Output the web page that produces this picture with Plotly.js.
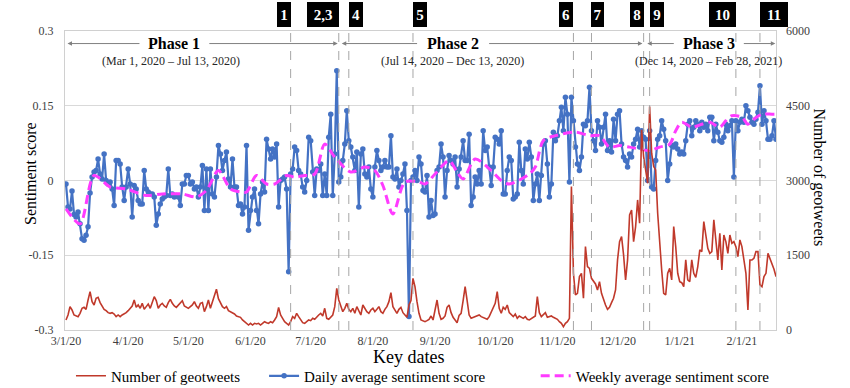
<!DOCTYPE html>
<html>
<head>
<meta charset="utf-8">
<script src="https://cdn.plot.ly/plotly-3.0.1.min.js"></script>
<style>
  html, body { margin: 0; padding: 0; background: #fff; }
  #chart { width: 850px; height: 388px; }
</style>
</head>
<body>
<div id="chart"></div>
<script>
// ---------------- DATA ----------------
const seriesStart = '2020-03-01';

// Daily average sentiment score (one value per day from 3/1/20)
const dailySentiment = [
  -0.007,-0.053,-0.057,-0.021,-0.068,-0.073,-0.063,-0.087,-0.117,-0.12,
  -0.11,-0.093,-0.025,0.007,0.017,0.02,0.043,0.013,0.003,0.053,
  0,-0.007,-0.003,-0.017,-0.05,0.04,0.04,0.033,-0.013,-0.04,
  -0.013,0.023,-0.007,-0.073,-0.01,-0.017,-0.04,-0.047,-0.047,0.02,
  -0.017,-0.023,-0.027,-0.027,-0.033,-0.09,-0.067,-0.047,-0.037,-0.033,
  -0.03,0.023,-0.03,-0.027,-0.033,-0.03,-0.033,-0.05,-0.007,-0.007,
  0.01,0.01,-0.007,-0.003,-0.017,-0.013,-0.033,-0.013,0.03,-0.06,
  0.023,-0.06,0.023,-0.027,-0.033,0.007,0.07,0.053,0.02,0.04,
  0.057,0.003,-0.013,0.043,-0.013,-0.013,-0.05,-0.047,
  -0.067,-0.053,0.07,-0.1,-0.06,-0.033,-0.017,-0.06,-0.087,-0.027,
  -0.003,-0.023,0.083,0.063,0.043,0.063,0.047,0.073,-0.053,0,
  0.003,0.007,-0.017,-0.183,0.013,0.023,0.067,0.06,0.02,0.013,
  -0.013,-0.023,0,0.087,0.08,0.017,-0.03,0.023,0.02,0.033,
  -0.03,0.013,-0.03,0.087,0.133,-0.03,0.053,0.22,-0.003,0.007,
  0.04,0.073,0.14,0.08,0.067,0.047,0.02,0.057,-0.053,0.053,
  0.063,0.013,0.007,0.027,-0.017,-0.033,0.027,0.06,0.04,0.02,
  0.027,0.04,0.027,0.027,0.09,0.007,0.003,0.023,-0.013,0,
  0.013,0.033,-0.06,-0.273,0,0.007,0.02,0,0.047,
  0.033,-0.02,-0.023,0.01,-0.073,-0.04,-0.07,-0.067,0.02,0.027,
  0.073,0.047,-0.033,0.02,0.05,0.04,0.033,0.047,-0.013,0.023,
  0.047,0.08,0.04,0.04,0.093,-0.05,-0.033,0.007,-0.007,0.02,
  -0.007,0.1,0.06,0.067,0.027,-0.01,0.027,0.087,0.083,0.073,
  0.1,-0.027,-0.027,0.02,0.047,0.04,-0.037,-0.033,-0.027,0.077,
  0.02,-0.007,0.063,0.043,0.077,0.047,-0.04,-0.007,0.013,-0.04,
  0.01,0.073,0.08,0.033,-0.033,-0.007,0.097,0.08,0.09,0.12,
  0.147,0.1,0.167,0.133,-0.003,0.167,0.12,0.067,0.033,0.02,
  0.047,0.113,0.11,0.12,0.187,0.1,0.08,0.06,0.12,0.107,
  0.073,0.107,0.133,0.06,0.08,0.057,0.123,0.08,0.133,0.14,
  0.073,0.047,0.04,0.027,0.053,0.047,0.073,0.083,0.103,0.067,
  0.1,0.087,0.083,0,0.1,-0.013,-0.017,0.04,0.083,0.09,
  0.12,0.103,0.08,0,0.033,0.07,0.067,0.073,0.063,0.053,
  0.057,0.053,0.08,0.113,0.12,0.09,0.107,0.12,0.113,0.1,
  0.117,0.107,0.113,0.1,0.127,0.127,0.08,0.113,0.097,0.08,
  0.077,0.087,0.113,0.1,0.11,0.12,0.007,0.12,0.1,0.117,
  0.123,0.117,0.15,0.14,0.127,0.117,0.113,0.123,0.137,0.19,
  0.113,0.14,0.12,0.083,0.083,0.09,0.12,0.083
];

// Number of geotweets per day (from 3/1/20)
const geotweetCount = [
  201,301,469,402,301,281,268,335,435,455,
  415,602,770,569,502,636,656,549,469,415,
  388,348,335,348,321,268,301,268,301,321,
  348,388,435,482,602,455,502,435,535,415,
  469,522,435,549,669,589,435,502,535,482,
  455,549,616,535,482,455,502,535,589,482,
  455,435,469,502,569,482,435,535,549,368,
  469,602,435,549,669,817,629,549,469,435,
  469,388,368,348,321,281,268,254,
  201,167,134,100,134,100,134,120,134,100,
  134,167,147,134,167,147,201,268,455,301,
  234,167,134,100,167,268,234,335,268,201,
  147,134,167,201,187,234,214,268,301,335,
  281,435,234,214,268,301,469,837,602,469,
  368,435,535,415,368,435,335,469,368,301,
  502,435,368,335,402,435,368,415,469,368,
  335,415,469,569,750,469,388,335,415,455,
  348,301,254,502,589,1037,870,569,335,
  201,187,167,187,214,281,201,402,602,335,
  214,234,281,455,502,348,254,201,147,294,
  335,589,870,589,301,234,254,268,281,301,
  268,254,234,214,268,368,435,535,770,435,
  335,455,415,502,348,301,268,321,234,281,
  254,234,268,214,201,234,254,281,669,348,
  268,301,348,254,268,281,254,234,214,167,
  134,67,134,167,234,2878,1138,703,736,1071,
  1138,636,1673,1272,1238,1037,970,924,803,970,
  736,602,502,415,455,549,636,803,1406,1774,
  1874,1506,1004,1406,2309,2409,1774,2075,2610,2142,
  4016,3480,3213,2945,4484,3547,3280,3213,2343,1673,
  1205,736,703,1138,1238,1004,2075,1673,1138,970,
  950,870,1406,1004,970,1406,1138,1057,1272,1606,
  1573,2175,1941,1640,1539,1573,2209,1774,1406,1941,
  1205,1907,1774,1539,1907,1740,1774,1673,1472,1807,
  1673,1406,1138,402,1406,1406,1439,1573,1573,904,
  870,1071,1138,1539,1439,1339,1218,1071
];

// Weekly average sentiment score
const weeklyDates = [
  '2020-03-01','2020-03-08','2020-03-15','2020-03-23','2020-03-31','2020-04-10','2020-04-18',
  '2020-04-28','2020-05-05','2020-05-10','2020-05-16','2020-05-22','2020-05-27','2020-05-30',
  '2020-06-04','2020-06-09','2020-06-13','2020-06-19','2020-06-23','2020-06-28','2020-07-03',
  '2020-07-08','2020-07-13','2020-07-21','2020-07-28','2020-08-02','2020-08-06','2020-08-11',
  '2020-08-17','2020-08-24','2020-08-27','2020-09-01','2020-09-08','2020-09-12','2020-09-15',
  '2020-09-21','2020-09-29','2020-10-04','2020-10-08','2020-10-18','2020-10-21','2020-10-25',
  '2020-10-31','2020-11-10','2020-11-17','2020-11-22','2020-11-27','2020-12-02','2020-12-07',
  '2020-12-12','2020-12-17','2020-12-22','2020-12-27','2020-12-30','2021-01-02','2021-01-07',
  '2021-01-12','2021-01-16','2021-01-21','2021-01-24','2021-01-27','2021-02-01','2021-02-04',
  '2021-02-07','2021-02-11','2021-02-16','2021-02-19'
];
const weeklySentiment = [
  -0.057,-0.087,0.01,-0.013,-0.017,-0.03,-0.027,
  -0.027,-0.033,-0.02,0.02,-0.017,-0.023,-0.023,
  0.01,-0.007,-0.007,0.01,0.007,0.01,0.013,
  0.073,0.047,0.017,0.027,0.02,-0.01,-0.067,
  -0.003,-0.003,-0.007,0.013,0.04,0.017,0.003,
  0.043,0.02,0.0,-0.007,0.013,0.027,0.08,
  0.09,0.097,0.09,0.09,0.067,0.07,0.067,
  0.063,0.06,0.067,0.073,0.1,0.117,0.107,
  0.113,0.117,0.107,0.12,0.13,0.127,0.113,
  0.123,0.133,0.133,0.133
];

// Key dates
const eventDates  = ['2020-06-21','2020-07-15','2020-07-20','2020-08-21','2020-11-09','2020-11-18','2020-12-14','2020-12-17','2021-01-29','2021-02-10'];
const eventLabels = ['1','2,3','4','5','6','7','8','9','10','11'];

// Phases
const phaseNames   = ['Phase 1','Phase 2','Phase 3'];
const phaseRanges  = ['(Mar 1, 2020 \u2013 Jul 13, 2020)','(Jul 14, 2020 \u2013 Dec 13, 2020)','(Dec 14, 2020 \u2013 Feb 28, 2021)'];

// Axis ticks
const monthTickDates  = ['2020-03-01','2020-04-01','2020-05-01','2020-06-01','2020-07-01','2020-08-01','2020-09-01','2020-10-01','2020-11-01','2020-12-01','2021-01-01','2021-02-01'];
const monthTickLabels = ['3/1/20','4/1/20','5/1/20','6/1/20','7/1/20','8/1/20','9/1/20','10/1/20','11/1/20','12/1/20','1/1/21','2/1/21'];
const sentimentTicks  = [-0.3,-0.15,0,0.15,0.3];
const sentimentLabels = ['-0.3','-0.15','0','0.15','0.3'];
const countTicks      = [0,1500,3000,4500,6000];
const countLabels     = ['0','1500','3000','4500','6000'];

// ---------------- PRESENTATION ----------------
function dailyDates(n) {
  const t0 = Date.parse(seriesStart + 'T00:00:00Z');
  const out = [];
  for (let i = 0; i < n; i++) out.push(new Date(t0 + i * 86400000).toISOString().slice(0, 10));
  return out;
}

const SERIF = 'Liberation Serif';
const RED = '#C0392B', BLUE = '#4472C4', PINK = '#FF3BFF';

// box geometry for key-date labels: [width px, side]  (side -1 = box left of line, +1 = right)
const boxStyle = [[14,-1],[32,-1],[14,1],[14,1],[14,-1],[13,1],[14,-1],[14,1],[27,-1],[28,1]];
const BOX_Y0 = 1.0134, BOX_H = 25;

// phase arrow segments: [tail, tip] dates (visual guides)
const arrowSegs = [
  ['2020-04-07 09:00','2020-03-01 18:00'],
  ['2020-05-10 17:00','2020-07-14 12:00'],
  ['2020-08-23 19:00','2020-07-16 12:00'],
  ['2020-09-27 05:00','2020-12-13 10:00'],
  ['2020-12-29 19:00','2020-12-15 19:00'],
  ['2021-02-01 05:00','2021-02-17 16:00']
];
const phaseLabelX = ['2020-04-24','2020-09-10','2021-01-15 12:00'];
const phaseSubX   = ['2020-04-22 12:00','2020-09-09 12:00','2021-01-15 12:00'];

const traces = [
  {
    x: dailyDates(geotweetCount.length), y: geotweetCount, yaxis: 'y2',
    type: 'scatter', mode: 'lines', name: 'Number of geotweets',
    line: { color: RED, width: 1.6 }, legend: 'legend'
  },
  {
    x: dailyDates(dailySentiment.length), y: dailySentiment,
    type: 'scatter', mode: 'lines+markers', name: 'Daily average sentiment score',
    line: { color: BLUE, width: 2.2 }, marker: { color: BLUE, size: 5.5 }, legend: 'legend2'
  },
  {
    x: weeklyDates, y: weeklySentiment,
    type: 'scatter', mode: 'lines', name: 'Weekly average sentiment score',
    line: { color: PINK, width: 3, dash: '9px,5px', shape: 'spline', smoothing: 0.8 }, legend: 'legend3'
  }
];

const shapes = [];
const annotations = [];

eventDates.forEach((d, i) => {
  const [w, side] = boxStyle[i];
  shapes.push({ type: 'line', xref: 'x', yref: 'paper', x0: d, x1: d, y0: 0, y1: BOX_Y0,
                line: { color: '#a6a6a6', width: 1, dash: 'dash' }, layer: 'above' });
  annotations.push({ x: d, xref: 'x', y: BOX_Y0, yref: 'paper', text: '<b>' + eventLabels[i] + '</b>',
                     showarrow: false, xanchor: side < 0 ? 'right' : 'left', yanchor: 'bottom',
                     width: w, height: BOX_H, align: 'center', valign: 'middle',
                     bgcolor: '#000', borderpad: 0, borderwidth: 0,
                     font: { family: SERIF, size: 15, color: '#fff' } });
});

arrowSegs.forEach(([tail, tip]) => {
  annotations.push({ x: tip, xref: 'x', y: 0.958, yref: 'paper', ax: tail, axref: 'x', ay: 0, ayref: 'pixel',
                     text: '', showarrow: true, arrowhead: 2, arrowsize: 0.9, arrowwidth: 1, arrowcolor: '#808080', standoff: 0, startstandoff: 0 });
});

phaseNames.forEach((p, i) => {
  annotations.push({ x: phaseLabelX[i], xref: 'x', y: 0.958, yref: 'paper', text: '<b>' + p + '</b>', showarrow: false,
                     xanchor: 'center', yanchor: 'middle', font: { family: SERIF, size: 16, color: '#000' } });
  annotations.push({ x: phaseSubX[i], xref: 'x', y: 0.900, yref: 'paper', text: phaseRanges[i], showarrow: false,
                     xanchor: 'center', yanchor: 'middle', font: { family: SERIF, size: 12, color: '#262626' } });
});

// axis titles
annotations.push({ x: -0.0478, xref: 'paper', y: 0.522, yref: 'paper', text: 'Sentiment score', textangle: -90, showarrow: false,
                   xanchor: 'center', yanchor: 'middle', font: { family: SERIF, size: 16, color: '#000' } });
annotations.push({ x: 1.0605, xref: 'paper', y: 0.51, yref: 'paper', text: 'Number of geotweets', textangle: 90, showarrow: false,
                   xanchor: 'center', yanchor: 'middle', font: { family: SERIF, size: 16, color: '#000' } });
annotations.push({ x: 0.4838, xref: 'paper', y: -0.0903, yref: 'paper', text: 'Key dates', showarrow: false,
                   xanchor: 'center', yanchor: 'middle', font: { family: SERIF, size: 18, color: '#000' } });

function legendAt(x) {
  return { orientation: 'h', x: x, xanchor: 'left', yref: 'paper', y: -0.154, yanchor: 'middle',
           bgcolor: 'rgba(0,0,0,0)', font: { family: 'Liberation Serif, serif', size: 15, color: '#000' } };
}

const layout = {
  width: 850, height: 388,
  margin: { l: 65, r: 74, t: 31, b: 58, autoexpand: false },
  paper_bgcolor: '#fff', plot_bgcolor: '#fff',
  font: { family: SERIF, color: '#404040' },
  showlegend: true,
  legend:  legendAt(0.0084),
  legend2: legendAt(0.280),
  legend3: legendAt(0.662),
  xaxis: {
    type: 'date', range: ['2020-02-29 12:00', '2021-02-18'],
    tickvals: monthTickDates, ticktext: monthTickLabels, ticks: '',
    showgrid: false, zeroline: false, showline: true, mirror: true, linecolor: '#d0d0d0', linewidth: 1,
    tickfont: { family: SERIF, size: 12, color: '#404040' }
  },
  yaxis: {
    range: [-0.3, 0.3], tickvals: sentimentTicks, ticktext: sentimentLabels, ticks: '',
    showgrid: true, gridcolor: '#d9d9d9', gridwidth: 1, zeroline: false,
    showline: true, mirror: true, linecolor: '#d0d0d0', linewidth: 1,
    ticklabelstandoff: 8,
    tickfont: { family: SERIF, size: 12, color: '#404040' }
  },
  yaxis2: {
    overlaying: 'y', side: 'right', range: [0, 6000], tickvals: countTicks, ticktext: countLabels, ticks: '',
    showgrid: false, zeroline: false, showline: false,
    ticklabelstandoff: 9,
    tickfont: { family: SERIF, size: 12, color: '#404040' }
  },
  shapes: shapes,
  annotations: annotations
};

Plotly.newPlot('chart', traces, layout, { staticPlot: true, displayModeBar: false });
</script>
</body>
</html>
